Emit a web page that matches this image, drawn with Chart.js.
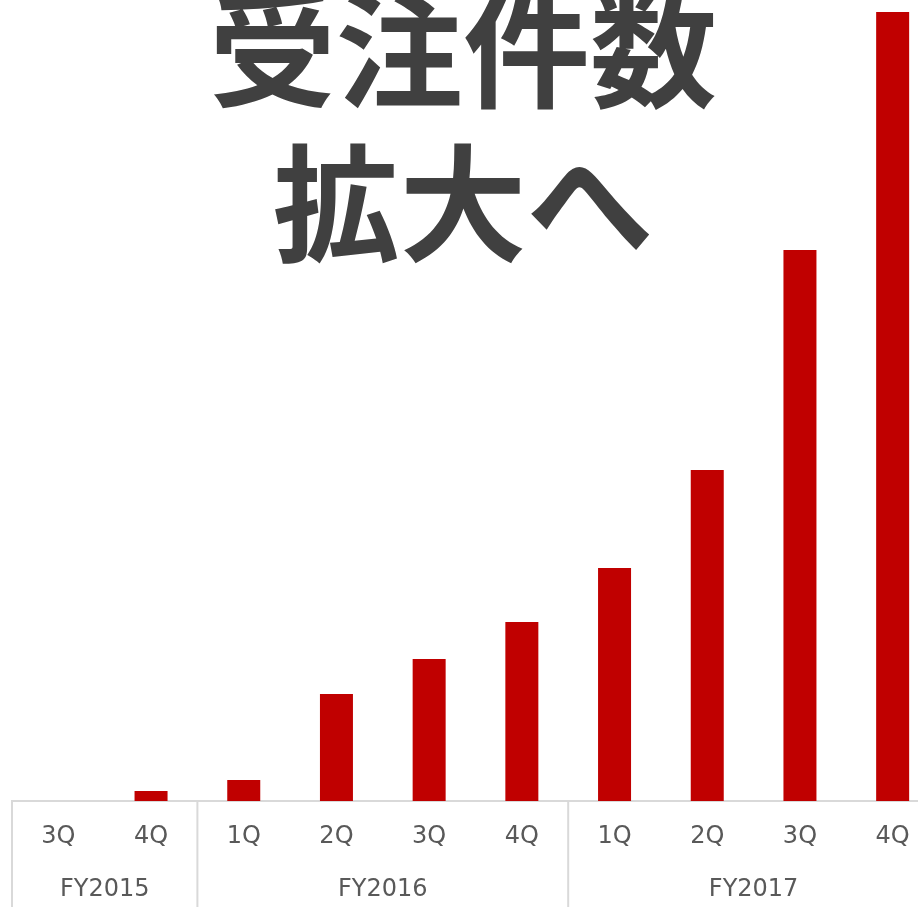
<!DOCTYPE html>
<html lang="ja">
<head>
<meta charset="utf-8">
<title>受注件数 拡大へ</title>
<script src="https://cdn.jsdelivr.net/npm/chart.js@4"></script>
<style>
    html, body { margin: 0; padding: 0; overflow: hidden; background: #fff; }
    #wrap { position: relative; width: 939px; height: 907px; }
    #headline {
        position: absolute; left: 0; top: -34px; width: 926px;
        text-align: center; font: bold 127px "Noto Sans CJK JP", sans-serif;
        line-height: 154px; color: #404040; pointer-events: none;
    }
</style>
</head>
<body>
<div id="wrap">
    <canvas id="myChart" width="939" height="907"></canvas>
    <div id="headline">受注件数<br>拡大へ</div>
</div>
<script>
// データ
const quarters = ['3Q', '4Q', '1Q', '2Q', '3Q', '4Q', '1Q', '2Q', '3Q', '4Q'];
const fiscalYears = ['FY2015', 'FY2016', 'FY2017'];
const quartersPerYear = [2, 4, 4];
const orders = [0, 10, 21, 107, 142, 179, 233, 331, 551, 789];

const labelFont = { family: 'DejaVu Sans', size: 24 };

// 年度の区切り線とラベルを描く
const fiscalYearPlugin = {
    id: 'fiscalYears',
    afterDraw(chart) {
        const ctx = chart.ctx;
        const x = chart.scales.x;
        const half = (x.getPixelForValue(1) - x.getPixelForValue(0)) / 2;
        const top = chart.chartArea.bottom;
        const bottom = chart.height;
        ctx.save();
        ctx.strokeStyle = '#d9d9d9';
        ctx.lineWidth = 2;
        ctx.fillStyle = '#595959';
        ctx.font = labelFont.size + 'px ' + labelFont.family;
        ctx.textAlign = 'center';
        ctx.textBaseline = 'middle';
        let start = 0;
        fiscalYears.forEach(function (fy, i) {
            const end = start + quartersPerYear[i];
            const left = x.getPixelForValue(start) - half;
            const right = x.getPixelForValue(end - 1) + half;
            if (i === 0) {
                ctx.beginPath();
                ctx.moveTo(left, top);
                ctx.lineTo(left, bottom);
                ctx.stroke();
            }
            ctx.beginPath();
            ctx.moveTo(right, top);
            ctx.lineTo(right, bottom);
            ctx.stroke();
            ctx.fillText(fy, (left + right) / 2, 890);
            start = end;
        });
        ctx.restore();
    }
};

const ctx = document.getElementById('myChart').getContext('2d');
new Chart(ctx, {
    type: 'bar',
    data: {
        labels: quarters,
        datasets: [{
            label: '受注件数',
            data: orders,
            backgroundColor: '#c00000',
            borderWidth: 0,
            categoryPercentage: 1,
            barPercentage: 0.356
        }]
    },
    options: {
        responsive: false,
        animation: false,
        layout: { padding: { left: 12, top: 0, right: 0, bottom: 0 } },
        plugins: {
            legend: { display: false },
            tooltip: { enabled: false }
        },
        scales: {
            x: {
                grid: { display: true, drawOnChartArea: false, drawTicks: false, color: 'rgba(0,0,0,0)' },
                border: { display: true, color: '#d9d9d9', width: 2 },
                ticks: { color: '#595959', font: labelFont, padding: 21, maxRotation: 0, autoSkip: false },
                afterFit: function (scale) { scale.height = 106; }
            },
            y: {
                display: false,
                min: 0,
                max: 801
            }
        }
    },
    plugins: [fiscalYearPlugin]
});
</script>
</body>
</html>
